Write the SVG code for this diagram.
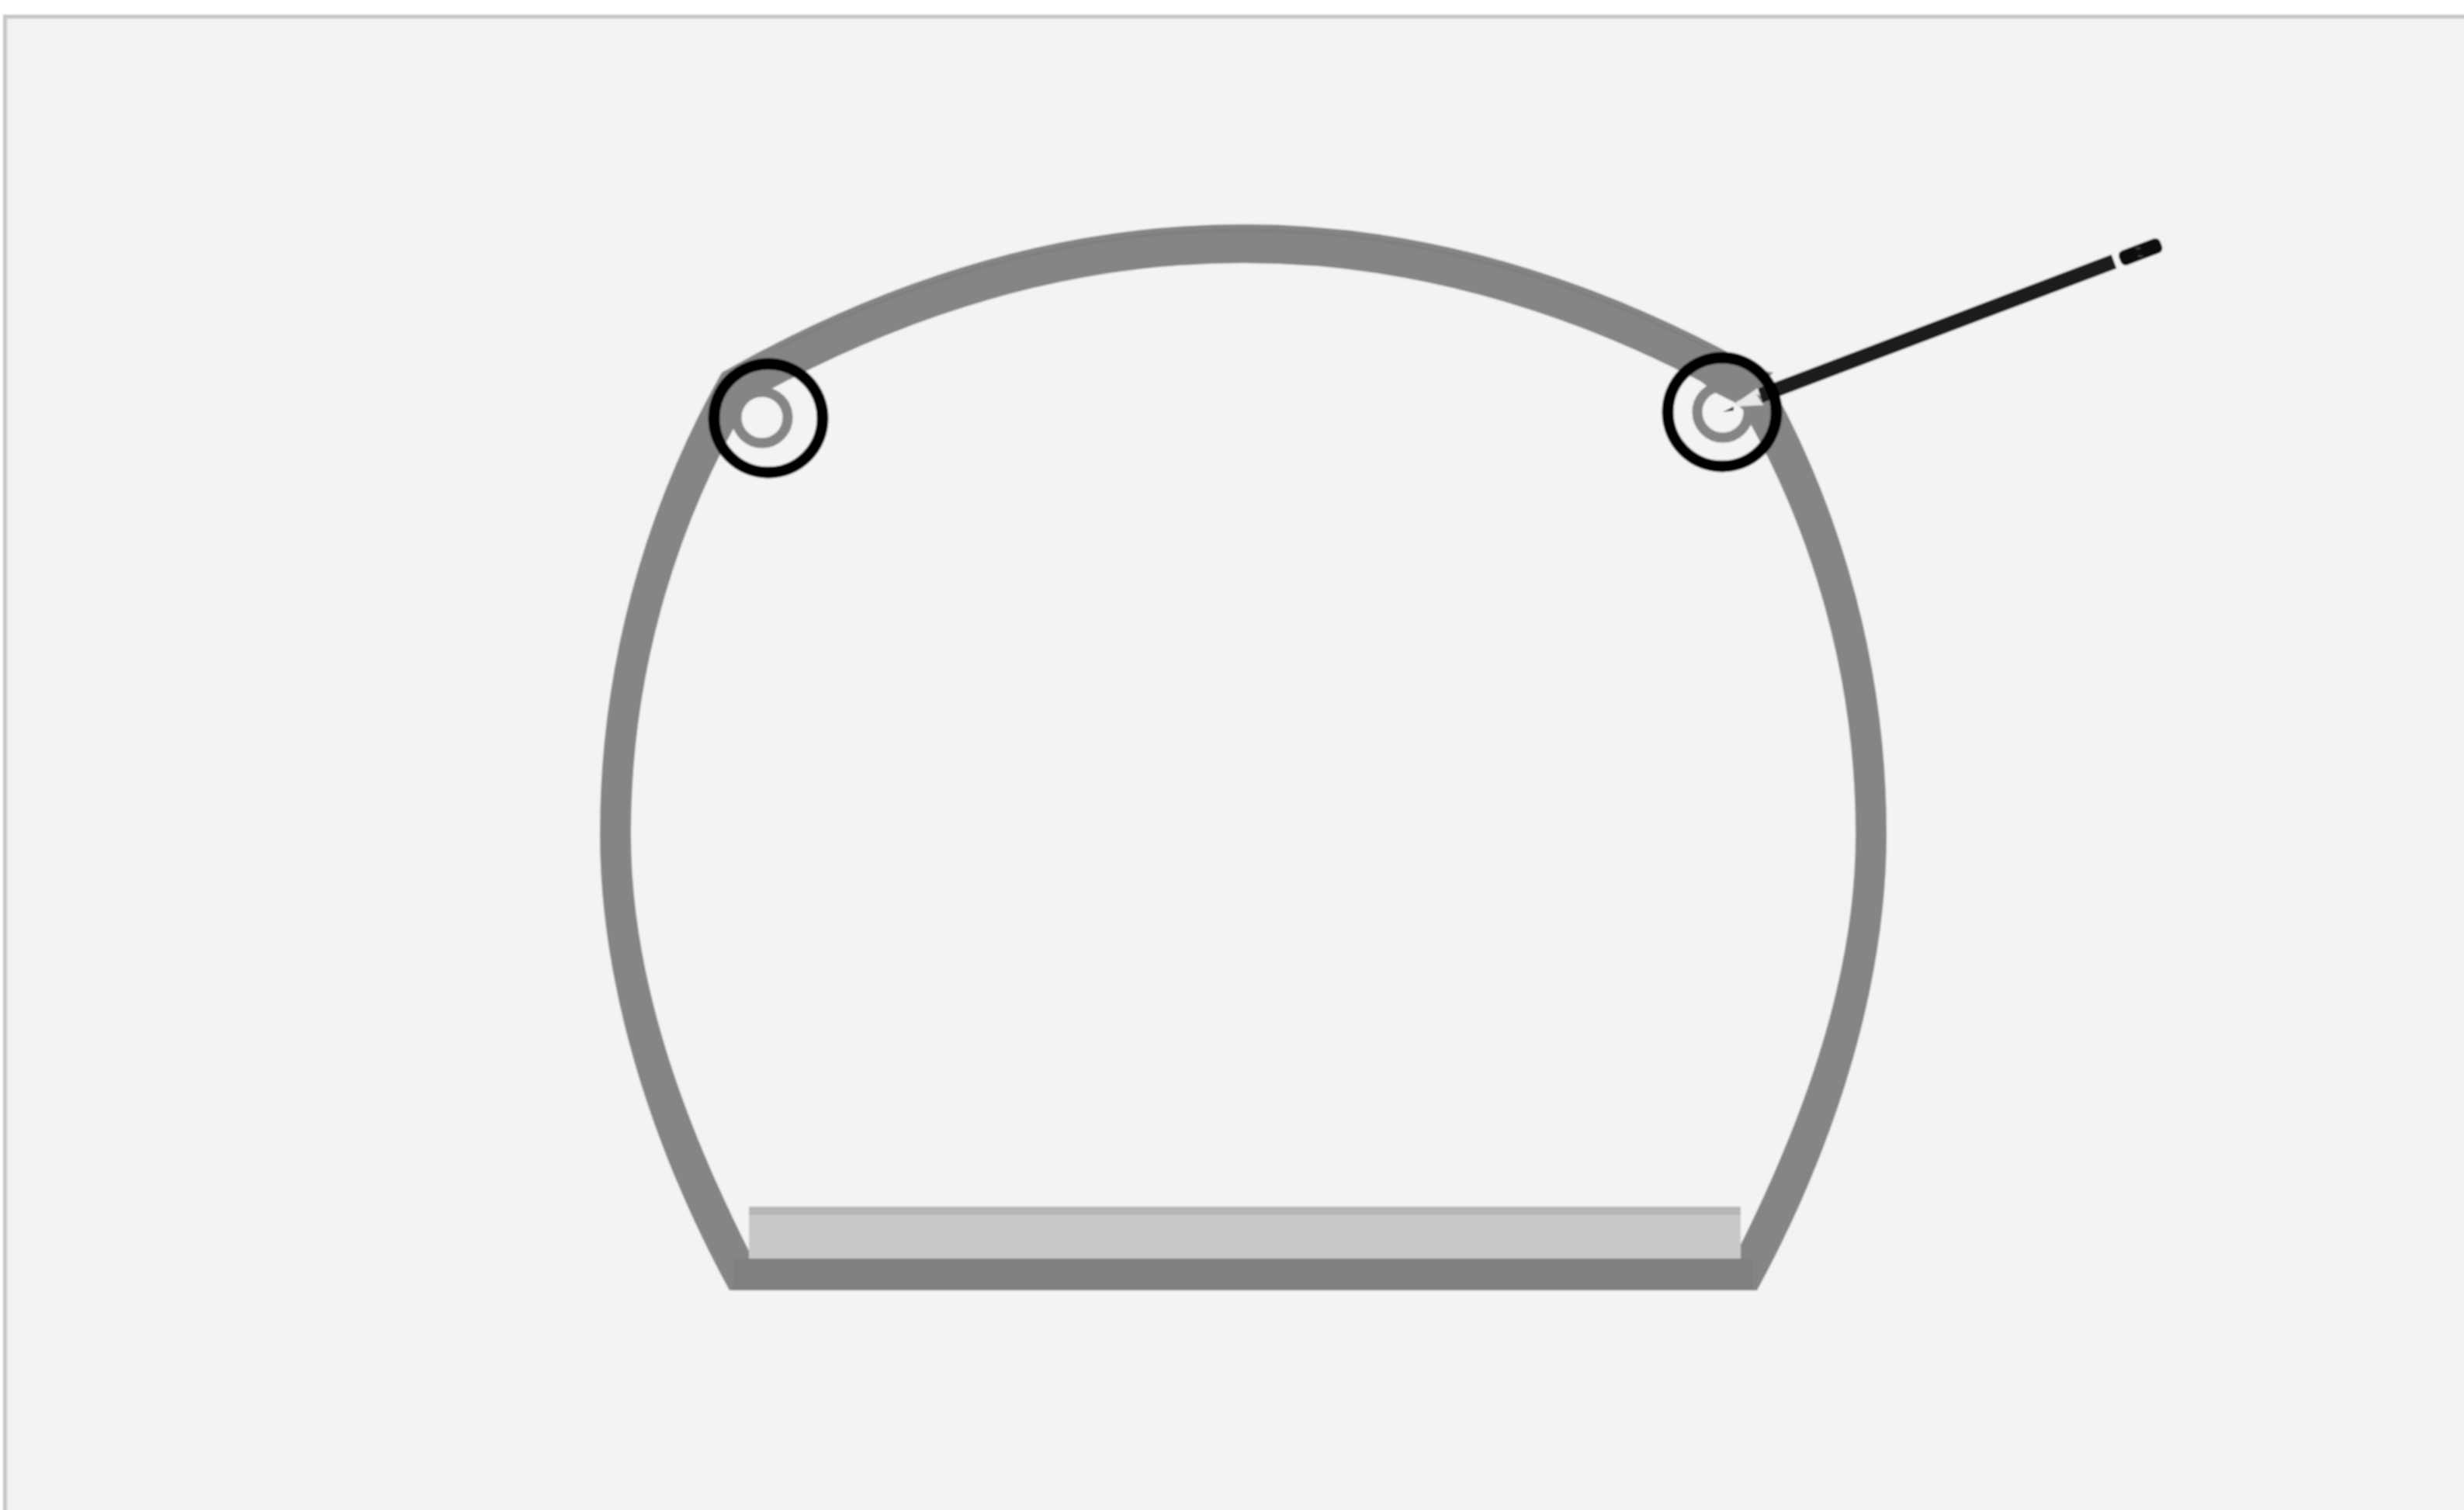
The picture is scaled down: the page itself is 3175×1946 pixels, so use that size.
<svg xmlns="http://www.w3.org/2000/svg" width="3175" height="1946" viewBox="0 0 3175 1946">
<style>
.hole{fill:#f3f3f3;stroke:#858585;stroke-width:13}
.clamp{fill:none;stroke:#000;stroke-width:15}
</style>
<defs><filter id="soft" x="-5%" y="-5%" width="110%" height="110%"><feGaussianBlur stdDeviation="0.9"/></filter></defs>
<rect width="3175" height="1946" fill="#fff"/>
<g filter="url(#soft)">
<rect id="frame" x="6.5" y="21.5" width="3190" height="1950" fill="#f3f3f3" stroke="#c6c6c6" stroke-width="5"/>
<g id="shell">
<path fill="#858585" fill-rule="evenodd" d="M940 1663 C840 1480 773 1270 773 1075 A1206 1206 0 0 1 930 480 Q1602 98 2274 480 A1206 1206 0 0 1 2431 1075 C2431 1270 2364 1480 2264 1663 Z M970 1622 H2234 C2316 1460 2391 1270 2391 1075 A1100 1100 0 0 0 2239 517 Q1602 161 965 517 A1100 1100 0 0 0 813 1075 C813 1270 888 1460 970 1622 Z"/>
<path d="M1000 450 Q1602 144 2204 450" fill="none" stroke="#7e7e7e" stroke-width="3"/>
<rect x="945" y="1622" width="1314" height="41" fill="#808080"/>
</g>
<g id="slab">
<rect x="965" y="1555" width="1278" height="67" fill="#c9c9c9"/>
<rect x="965" y="1555" width="1278" height="11" fill="#b6b6b6"/>
</g>
<g id="left-joint">
<circle class="hole" cx="982" cy="538" r="33"/>
<circle class="clamp" cx="990" cy="539" r="70"/>
</g>
<g id="right-joint">
<circle class="hole" cx="2220" cy="531" r="33"/>
<path d="M2208 505 L2236 519 L2268 498 L2285 480 L2200 465 L2190 490 Z" fill="#858585"/>
<path d="M2236 519 L2248 530 L2270 535 L2275 505 Z" fill="#858585"/>
</g>
<g id="connectors">
<path d="M2268 510 L2724 337" stroke="#1e1e1e" stroke-width="19" fill="none"/>
<rect x="0" y="-10" width="57" height="20" rx="7" transform="translate(2731.5 334.5) rotate(-20.5)" fill="#0c0c0c"/>
<path d="M2752 320 h6 M2755 330 h6" stroke="#3a3a3a" stroke-width="3" fill="none"/>
<path d="M2265 500 L2268 510 L2263 508 L2270 519 L2273 522 L2238 524 L2236 520 Z" fill="#e8e8e8"/>
<path d="M2220 531 L2234 524 L2234 529 Z" fill="#222"/>
<circle class="clamp" cx="2219" cy="531" r="70"/>
</g>
</g>
</svg>
